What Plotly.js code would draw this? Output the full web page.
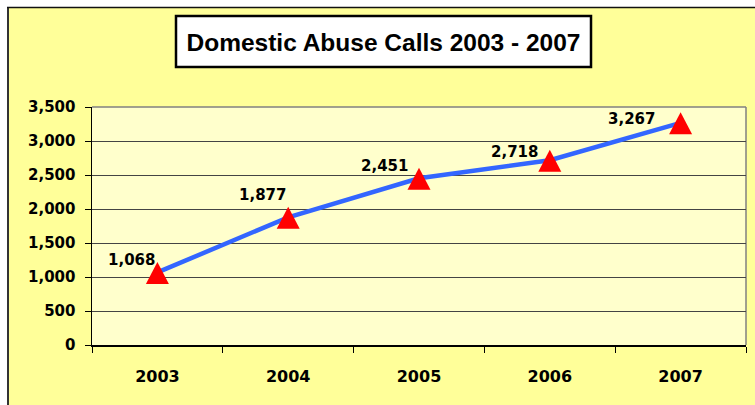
<!DOCTYPE html>
<html>
<head>
<meta charset="utf-8">
<script src="https://cdn.plot.ly/plotly-3.0.1.min.js"></script>
<style>
  html, body { margin: 0; padding: 0; background: #ffffff; }
  #chart { width: 755px; height: 405px; }
</style>
</head>
<body>
<div id="chart"></div>
<script>
// ---- data ----
const years = ['2003', '2004', '2005', '2006', '2007'];
const calls = [1068, 1877, 2451, 2718, 3267];
const yTicks = [0, 500, 1000, 1500, 2000, 2500, 3000, 3500];
const titleText = 'Domestic Abuse Calls 2003 - 2007';

// ---- style (label nudges in pixels, like the hand-placed Excel labels) ----
const labelDx = [-26, -26, -35, -35, -49];
const labelDy = [12, 22, 12, 8, 4];

// plot area in pixels: x 92..746, y 107..345
const L = 92, R = 9, T = 107, B = 60, W = 755, H = 405;
const pw = W - L - R, ph = H - T - B;
const px = v => (v - L) / pw;
const py = v => (H - B - v) / ph;

const tickFont = { family: 'DejaVu Sans', size: 15, color: '#000000', weight: 'bold' };

const trace = {
  type: 'scatter',
  mode: 'lines',
  x: years,
  y: calls,
  line: { color: '#3366FF', width: 4.5 },
  hoverinfo: 'skip',
  showlegend: false
};

// triangle markers drawn as pixel-sized shapes anchored at each data point
const triShapes = years.map((yr, i) => ({
  type: 'path',
  xref: 'x', yref: 'y',
  xsizemode: 'pixel', ysizemode: 'pixel',
  xanchor: i, yanchor: calls[i],
  path: 'M-11.5,-11.5 L11.5,-11.5 L0,10.5 Z',
  fillcolor: '#FF0000',
  line: { width: 0 },
  layer: 'above'
}));

const labels = years.map((yr, i) => ({
  x: i, y: calls[i], xref: 'x', yref: 'y',
  text: calls[i].toLocaleString('en-US'),
  showarrow: false,
  xanchor: 'center', yanchor: 'middle',
  xshift: labelDx[i], yshift: labelDy[i],
  font: { family: 'DejaVu Sans', size: 15, color: '#000000', weight: 'bold' }
}));

const frameShapes = [
  // white strips outside the chart area border
  { type: 'rect', xref: 'paper', yref: 'paper', x0: px(-5), x1: px(7), y0: py(410), y1: py(-5),
    fillcolor: '#ffffff', line: { width: 0 }, layer: 'below' },
  { type: 'rect', xref: 'paper', yref: 'paper', x0: px(-5), x1: px(760), y0: py(7), y1: py(-5),
    fillcolor: '#ffffff', line: { width: 0 }, layer: 'below' },
  // chart area borders
  { type: 'line', xref: 'paper', yref: 'paper', x0: px(8), x1: px(8), y0: py(7), y1: py(410),
    line: { color: '#333333', width: 2 }, layer: 'above' },
  { type: 'line', xref: 'paper', yref: 'paper', x0: px(7), x1: px(760), y0: py(7.5), y1: py(7.5),
    line: { color: '#111111', width: 1.5 }, layer: 'above' },
  // plot area top and right border (grey)
  { type: 'line', xref: 'paper', yref: 'paper', x0: 0, x1: 1, y0: 1, y1: 1,
    line: { color: '#808080', width: 1.5 }, layer: 'below' },
  { type: 'line', xref: 'paper', yref: 'paper', x0: 1, x1: 1, y0: 0, y1: 1,
    line: { color: '#808080', width: 1.5 }, layer: 'below' },
  // title box
  { type: 'rect', xref: 'paper', yref: 'paper', x0: px(176), x1: px(591), y0: py(67), y1: py(16),
    fillcolor: '#ffffff', line: { color: '#000000', width: 2.5 }, layer: 'below' }
];

const layout = {
  width: W, height: H,
  margin: { l: L, r: R, t: T, b: B, pad: 0 },
  paper_bgcolor: '#FFFF99',
  plot_bgcolor: '#FFFFCC',
  title: {
    text: titleText,
    xref: 'container', yref: 'container',
    x: 383.5 / W, y: 1 - 42 / H,
    xanchor: 'center', yanchor: 'middle',
    font: { family: 'Liberation Sans, Arial, sans-serif', size: 24.5, color: '#000000', weight: 'bold' }
  },
  xaxis: {
    type: 'category',
    range: [-0.5, 4.5],
    tickson: 'boundaries',
    ticks: 'outside', ticklen: 6, tickcolor: '#000000', tickwidth: 1,
    showline: true, linecolor: '#000000', linewidth: 1.5,
    showgrid: false, zeroline: false,
    tickfont: { family: 'DejaVu Sans', size: 16, color: '#000000', weight: 'bold' },
    ticklabelstandoff: 16,
    fixedrange: true
  },
  yaxis: {
    range: [0, 3500],
    tickmode: 'array', tickvals: yTicks,
    ticktext: yTicks.map(v => v.toLocaleString('en-US')),
    ticks: 'outside', ticklen: 6, tickcolor: '#000000', tickwidth: 1,
    showline: true, linecolor: '#000000', linewidth: 1.5,
    showgrid: true, gridcolor: '#444444', gridwidth: 1,
    zeroline: false,
    tickfont: tickFont,
    ticklabelstandoff: 6,
    fixedrange: true
  },
  shapes: frameShapes.concat(triShapes),
  annotations: labels,
  showlegend: false
};

Plotly.newPlot('chart', [trace], layout, { displayModeBar: false, staticPlot: true });
</script>
</body>
</html>
